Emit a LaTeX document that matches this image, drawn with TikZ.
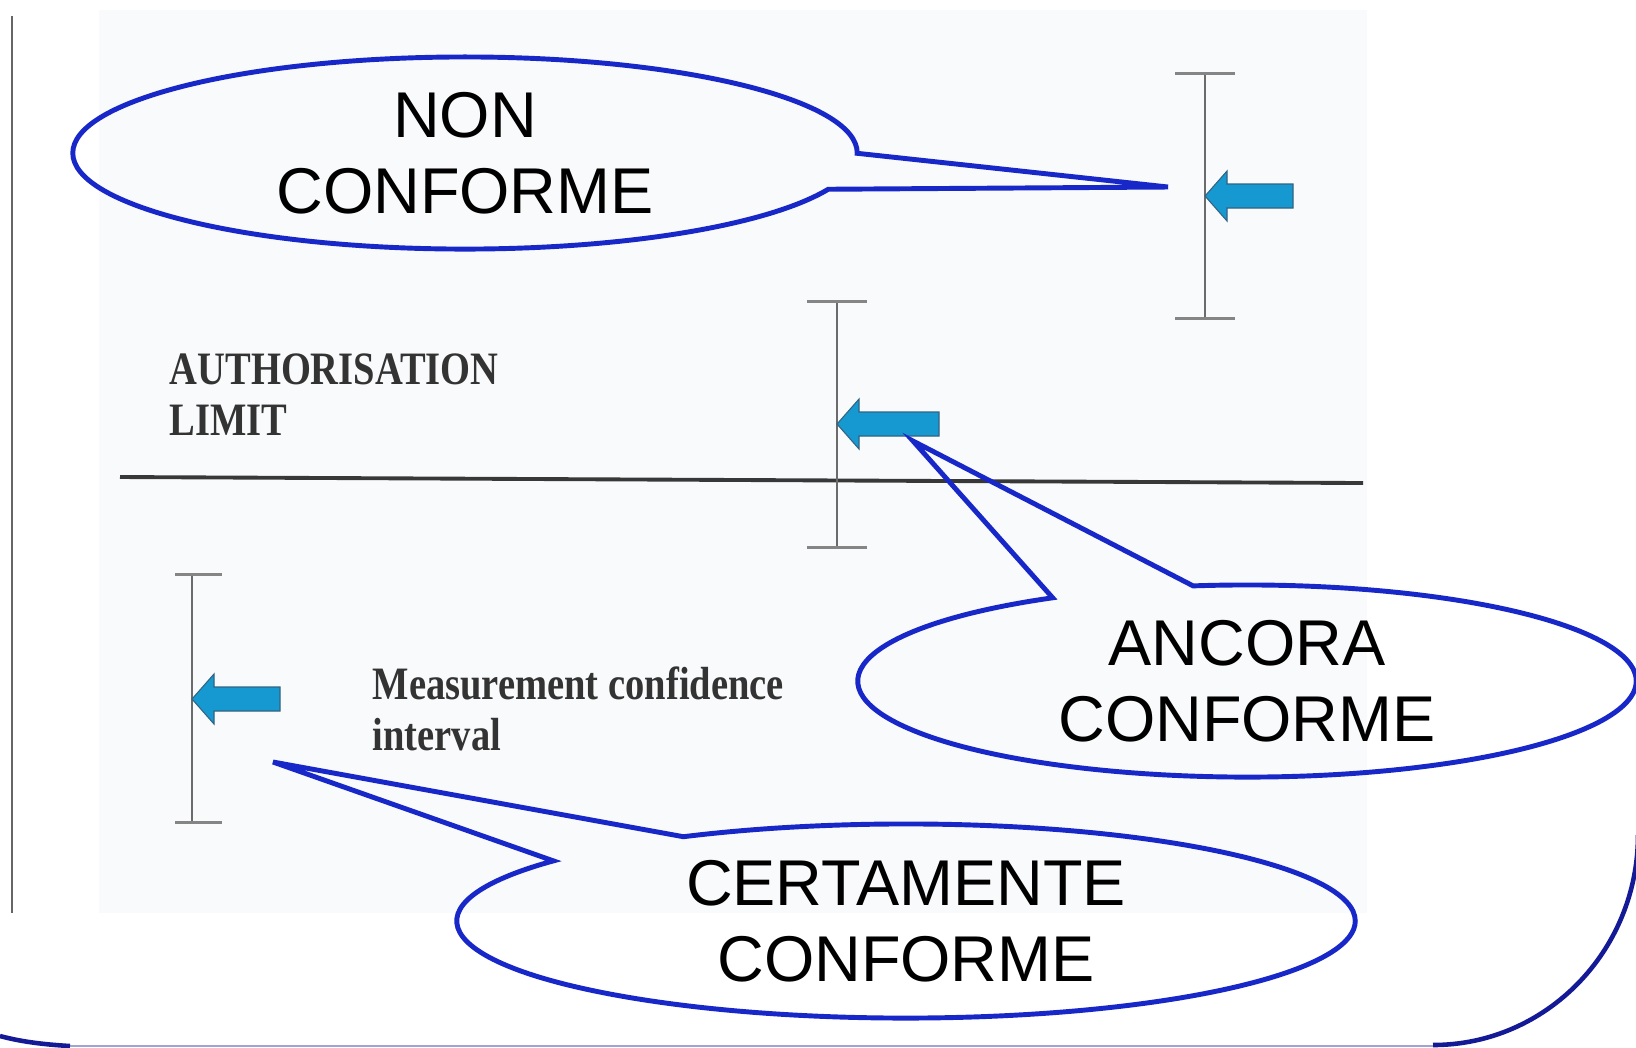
\documentclass[tikz,border=0pt]{standalone}
\usepackage{fontspec}
\newfontfamily\calloutfont{Liberation Sans}
\newfontfamily\scanfont[FakeStretch=0.83]{Liberation Serif}
\usepackage{tikz}
\usetikzlibrary{shapes,shapes.callouts,positioning,calc}
\definecolor{callblue}{RGB}{24,40,200}
\definecolor{frameblue}{RGB}{20,26,150}
\definecolor{arrowfill}{RGB}{22,152,208}
\definecolor{arrowedge}{RGB}{50,100,130}
\definecolor{scangray}{RGB}{249,250,251}
\tikzset{
    bubble/.style = {
        ellipse callout, draw=callblue, line width=1.4pt,
        inner sep=0pt, align=center, callout pointer arc=22,
        font=\calloutfont\fontsize{18.4}{21.6}\selectfont
    },
    scantext/.style = {
        anchor=north west, inner sep=0pt, align=left, text=black!80,
        font=\scanfont\bfseries\fontsize{13.2}{14.5}\selectfont
    },
    errbar/.style     = {draw=black!58, line width=0.6pt},
    errcap/.style     = {draw=black!48, line width=0.85pt},
    blockarrow/.style = {fill=arrowfill, draw=arrowedge, line width=0.3pt, line join=miter}
}

\begin{document}
\begin{tikzpicture}[x=0.01cm, y=-0.01cm]
  \useasboundingbox (0,0) rectangle (1636,1047);
  \clip (0,0) rectangle (1636,1047);

  % scanned figure
  \fill[scangray] (99,10) rectangle (1367,913);
  \draw[black!60, line width=0.55pt] (12,16) -- (12,913);
  \draw[black!78, line width=1.1pt] (120,477) -- (1363,483);
  \node[scantext] (limit) at (169,353) {AUTHORISATION\\LIMIT};
  \node[scantext] (interval) at (372,666) {Measurement confidence\\interval};

  \foreach \n/\x/\yt/\yb/\cl/\ay/\len in
      {hi/1205/73/318/30/196/88, mid/837/301/547/30/424/102, lo/192/574/822/17/699/88} {
    \draw[errbar] (\x,\yt) -- (\x,\yb);
    \draw[errcap] (\x-\cl,\yt) -- (\x+30,\yt) (\x-\cl,\yb) -- (\x+30,\yb);
    \coordinate (tip-\n) at (\x,\ay);
    \draw[blockarrow] (tip-\n) -- ++(22,-25) -- ++(0,13) -- ++(\len-22,0)
      -- ++(0,24) -- ++(22-\len,0) -- ++(0,13) -- cycle;
  }

  % callouts
  \coordinate (ptr-non) at (1168,187);
  \coordinate (ptr-ancora) at (913,441);
  \coordinate (ptr-certa) at (273,762);
  \node[bubble, minimum width=7.84cm, minimum height=1.92cm,
        callout absolute pointer={(ptr-non)}] (non) at (465,153) {NON\\CONFORME};
  \node[bubble, minimum width=7.78cm, minimum height=1.92cm,
        callout absolute pointer={(ptr-ancora)}] (ancora) at (1247,681) {ANCORA\\CONFORME};
  \node[bubble, minimum width=8.98cm, minimum height=1.94cm,
        callout absolute pointer={(ptr-certa)}] (certa) at (906,921) {CERTAMENTE\\CONFORME};

  % outer frame
  \draw[frameblue, line width=1.3pt] (1638,835) .. controls (1638,951) and (1546,1045) .. (1433,1045);
  \draw[frameblue!40, line width=0.5pt] (1433,1046) -- (70,1046);
  \draw[frameblue, line width=1.3pt] (70,1046) .. controls (35,1044) and (15,1040) .. (0,1036);
\end{tikzpicture}
\end{document}
